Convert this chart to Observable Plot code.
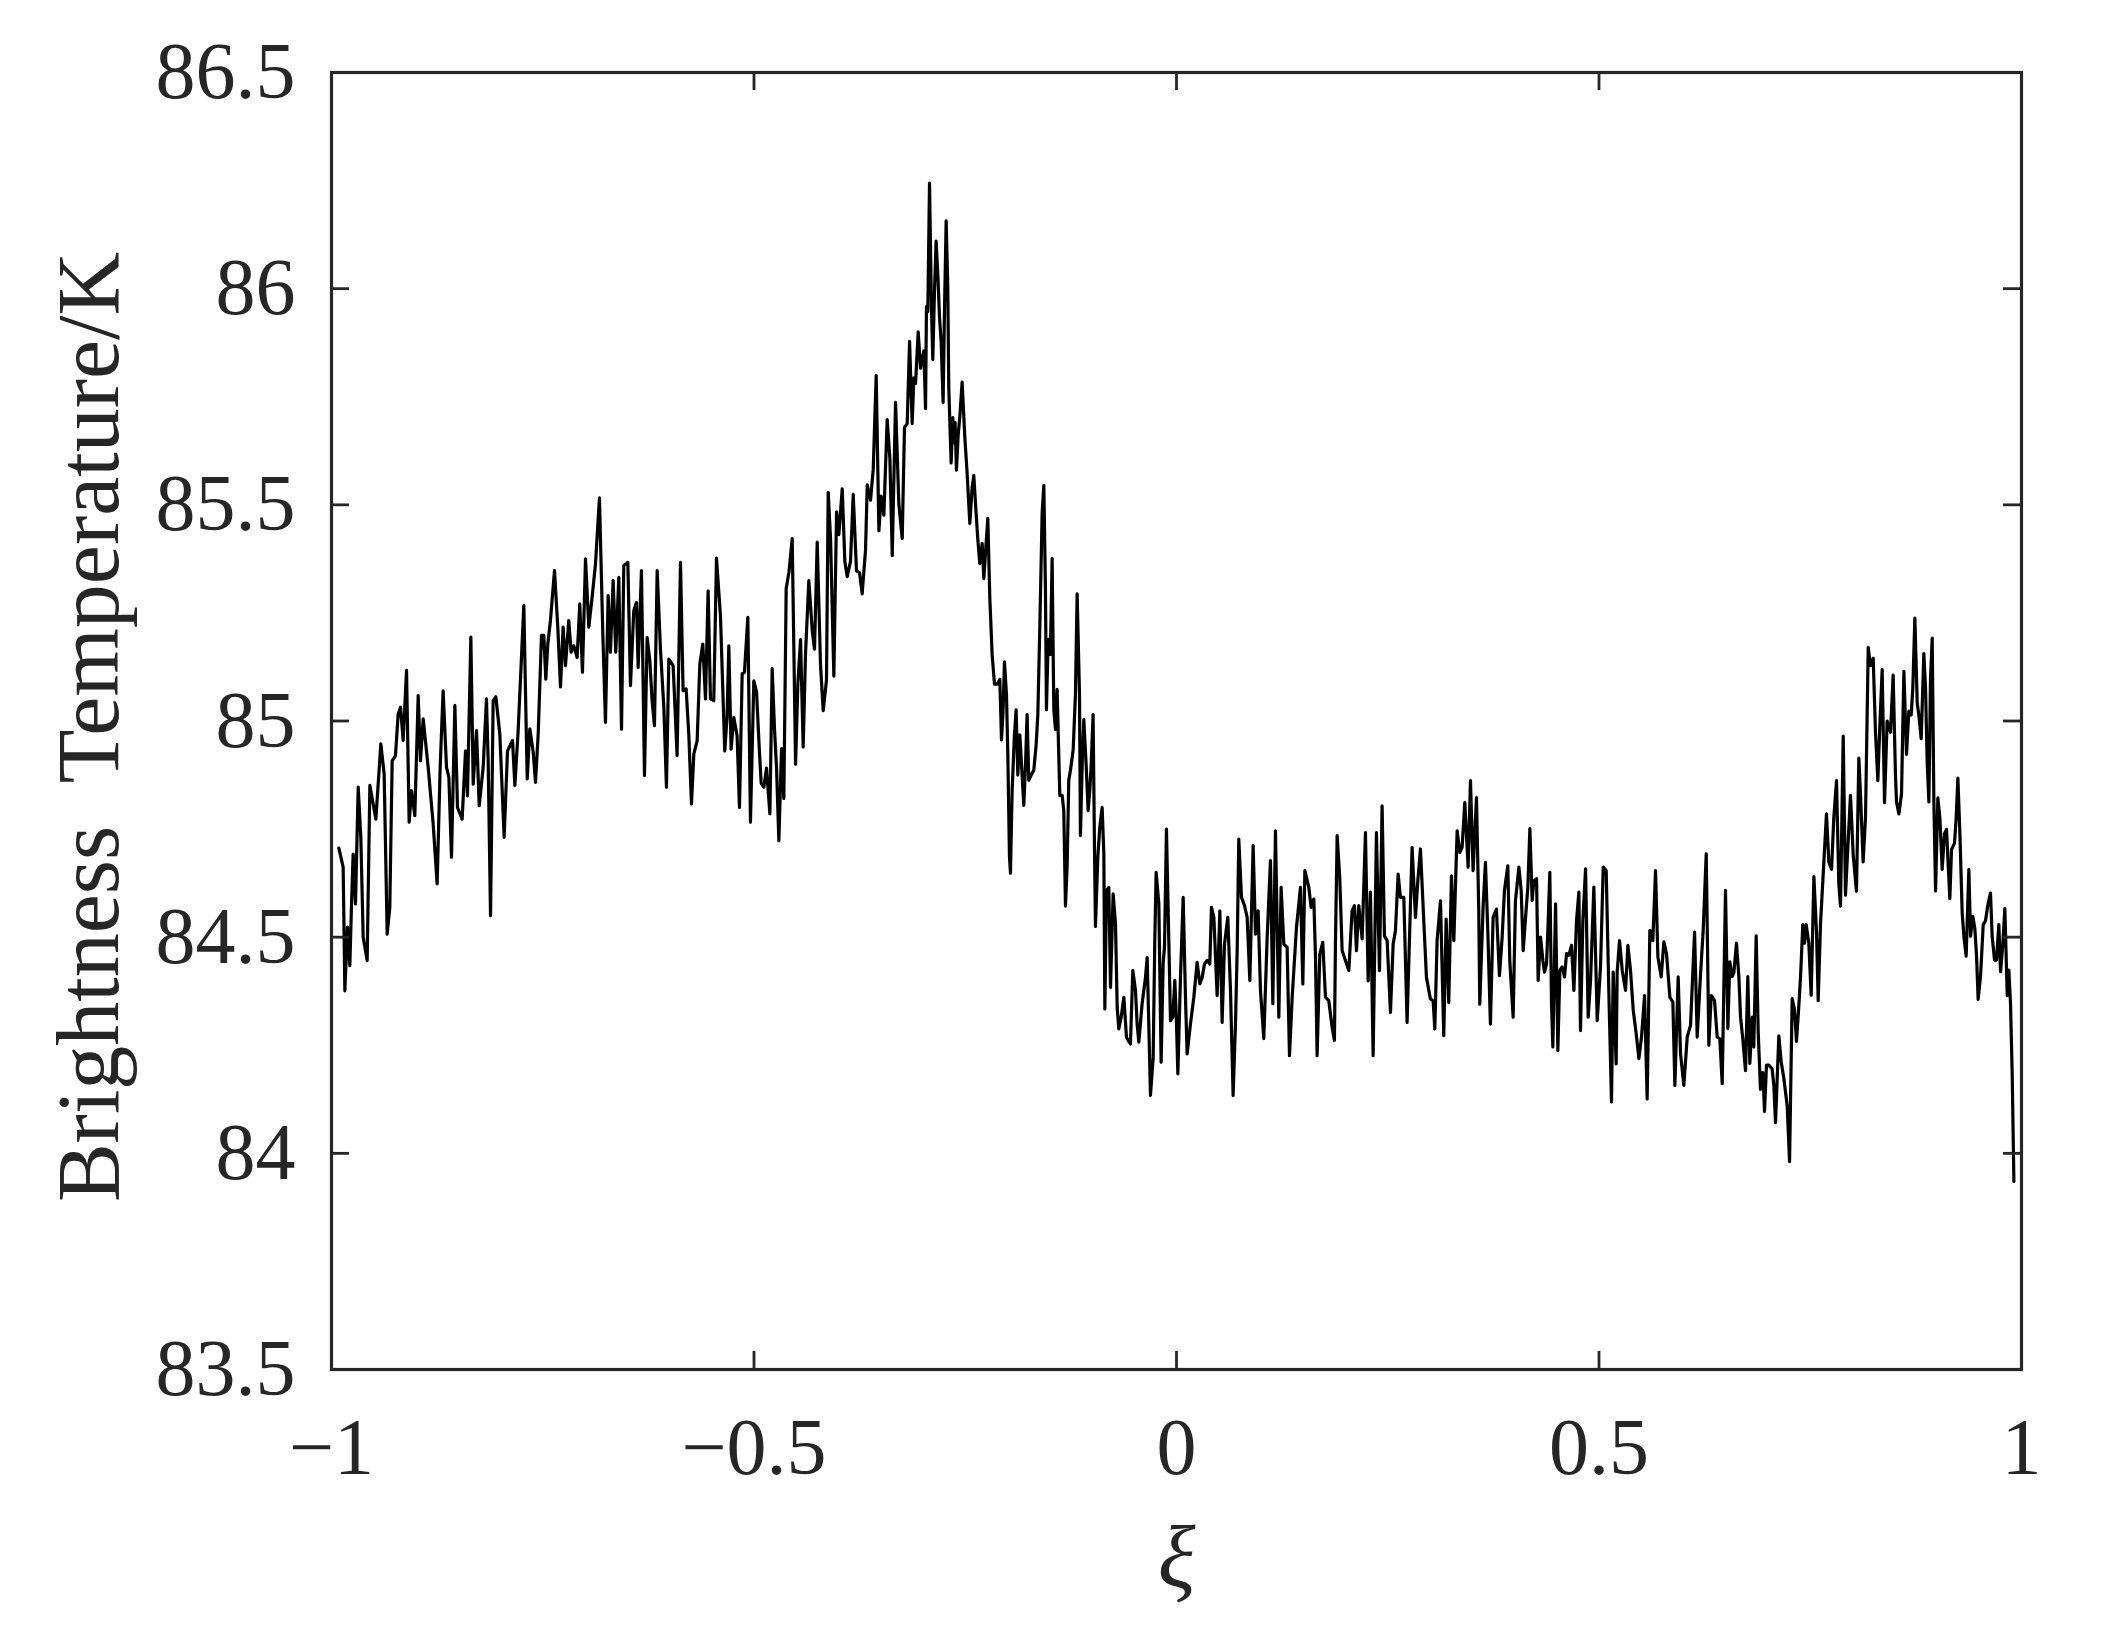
<!DOCTYPE html>
<html>
<head>
<meta charset="utf-8">
<script src="https://cdn.jsdelivr.net/npm/d3@7"></script>
<script src="https://cdn.jsdelivr.net/npm/@observablehq/plot@0.6"></script>
<style>
  html, body { margin: 0; padding: 0; background: #ffffff; }
  svg text { white-space: pre; }
</style>
</head>
<body>
<div id="chart"></div>
<script>
// ---- Data ----
const xi = [
  // segment 1
  -0.9913,-0.9862,-0.9842,-0.9811,-0.9783,-0.9763,-0.9744,-0.9716,-0.9684,-0.9653,
  -0.9625,-0.9578,-0.9546,-0.9507,-0.9475,-0.9416,-0.9377,-0.9341,-0.9310,-0.9282,
  -0.9243,-0.9211,-0.9183,-0.9152,-0.9112,-0.9081,-0.9053,-0.9014,-0.8974,-0.8947,
  -0.8915,-0.8856,-0.8797,-0.8750,-0.8714,-0.8679,-0.8639,-0.8611,-0.8580,-0.8540,
  -0.8509,-0.8454,-0.8414,-0.8391,-0.8351,-0.8323,-0.8284,-0.8252,-0.8205,-0.8166,
  -0.8146,-0.8118,-0.8087,-0.8055,-0.8008,-0.7957,-0.7917,-0.7858,-0.7830,-0.7791,
  -0.7724,-0.7684,-0.7653,-0.7613,-0.7586,-0.7554,-0.7515,-0.7487,-0.7464,
  // segment 2
  -0.7440,-0.7409,-0.7361,-0.7322,-0.7290,-0.7259,-0.7231,-0.7192,-0.7164,-0.7133,
  -0.7093,-0.7062,-0.7030,-0.6994,-0.6955,-0.6916,-0.6876,-0.6829,-0.6789,-0.6758,
  -0.6726,-0.6699,-0.6667,-0.6636,-0.6600,-0.6568,-0.6541,-0.6493,-0.6462,-0.6423,
  -0.6391,-0.6371,-0.6332,-0.6296,-0.6265,-0.6233,-0.6206,-0.6178,-0.6146,-0.6107,
  -0.6067,-0.6036,-0.6008,-0.5957,-0.5910,-0.5870,-0.5839,-0.5803,-0.5772,-0.5740,
  -0.5712,-0.5673,-0.5641,-0.5606,-0.5574,-0.5543,-0.5515,-0.5476,-0.5444,-0.5397,
  -0.5346,-0.5318,-0.5298,-0.5271,-0.5239,-0.5200,-0.5172,-0.5140,-0.5113,-0.5073,
  -0.5042,-0.5002,
  // segment 3
  -0.4970,-0.4942,-0.4915,-0.4883,-0.4852,-0.4812,-0.4785,-0.4757,-0.4733,-0.4706,
  -0.4674,-0.4647,-0.4619,-0.4587,-0.4548,-0.4508,-0.4481,-0.4449,-0.4418,-0.4390,
  -0.4351,-0.4311,-0.4284,-0.4252,-0.4213,-0.4181,-0.4142,-0.4122,-0.4094,-0.4055,
  -0.4023,-0.3996,-0.3956,-0.3925,-0.3897,-0.3858,-0.3826,-0.3787,-0.3751,-0.3720,
  -0.3680,-0.3660,-0.3621,-0.3589,-0.3554,-0.3522,-0.3495,-0.3463,-0.3424,-0.3392,
  -0.3364,-0.3325,-0.3286,-0.3246,-0.3219,-0.3187,-0.3159,-0.3128,-0.3108,-0.3088,
  -0.3057,-0.3029,-0.2990,-0.2970,
  // segment 4
  -0.2959,-0.2943,-0.2923,-0.2900,-0.2884,-0.2864,-0.2845,-0.2821,-0.2805,-0.2785,
  -0.2762,-0.2746,-0.2726,-0.2707,-0.2695,-0.2667,-0.2647,-0.2636,-0.2620,-0.2604,
  -0.2584,-0.2565,-0.2537,-0.2505,-0.2478,-0.2446,-0.2419,-0.2399,-0.2379,-0.2352,
  -0.2328,-0.2300,-0.2280,-0.2261,-0.2233,-0.2209,-0.2182,-0.2154,-0.2123,-0.2091,
  -0.2071,-0.2052,-0.2036,-0.2012,-0.1996,-0.1977,-0.1965,-0.1945,-0.1918,-0.1898,
  -0.1878,-0.1854,-0.1827,-0.1807,-0.1787,-0.1768,-0.1748,-0.1720,-0.1689,-0.1661,
  -0.1641,-0.1618,-0.1590,-0.1570,-0.1551,-0.1539,-0.1519,-0.1492,-0.1472,-0.1452,
  -0.1432,-0.1413,-0.1381,-0.1353,-0.1334,-0.1314,-0.1294,-0.1275,-0.1255,-0.1223,
  -0.1196,-0.1176,-0.1148,-0.1137,-0.1113,-0.1097,-0.1069,-0.1046,-0.1026,-0.1010,
  -0.0987,-0.0971,-0.0959,
  // segment 5
  -0.0931,-0.0908,-0.0880,-0.0860,-0.0848,-0.0829,-0.0801,-0.0781,-0.0762,-0.0750,
  -0.0722,-0.0702,-0.0683,-0.0655,-0.0623,-0.0592,-0.0545,-0.0517,-0.0485,-0.0466,
  -0.0446,-0.0407,-0.0367,-0.0347,-0.0328,-0.0308,-0.0276,-0.0257,-0.0241,-0.0209,
  -0.0182,-0.0158,-0.0142,-0.0119,-0.0091,-0.0071,-0.0044,-0.0020,0.0000,0.0016,
  0.0047,0.0079,0.0106,0.0126,0.0165,0.0205,0.0244,0.0276,0.0304,0.0331,
  0.0363,0.0394,0.0414,0.0442,0.0481,0.0513,0.0540,0.0568,0.0607,0.0639,
  0.0670,0.0698,0.0718,0.0737,0.0769,0.0805,0.0836,0.0868,0.0907,0.0935,
  0.0966,0.0994,0.1033,0.1073,0.1112,0.1140,0.1171,0.1211,0.1238,0.1270,
  0.1309,0.1337,0.1369,0.1420,0.1467,0.1495,0.1519,
  // segment 6
  0.1566,0.1593,0.1625,0.1645,0.1664,0.1696,0.1731,0.1763,0.1802,0.1842,
  0.1869,0.1881,0.1901,0.1932,0.1960,0.1999,0.2039,0.2078,0.2106,0.2130,
  0.2157,0.2197,0.2236,0.2268,0.2295,0.2327,0.2366,0.2402,0.2433,0.2461,
  0.2493,0.2532,0.2564,0.2591,0.2623,0.2650,0.2690,0.2729,0.2761,0.2788,
  0.2828,0.2856,0.2887,0.2919,0.2958,0.3005,0.3037,0.3057,0.3084,0.3124,
  0.3163,0.3191,0.3222,0.3254,0.3282,0.3321,0.3353,0.3380,0.3412,0.3451,
  0.3479,0.3510,0.3550,0.3577,0.3589,0.3629,0.3656,0.3684,0.3715,0.3747,
  0.3786,0.3822,0.3854,0.3881,0.3921,0.3944,0.3984,0.4011,
  // segment 7
  0.4052,0.4079,0.4103,0.4131,0.4158,0.4182,0.4209,0.4229,0.4261,0.4280,
  0.4308,0.4336,0.4355,0.4379,0.4395,0.4418,0.4438,0.4454,0.4486,0.4513,
  0.4537,0.4564,0.4592,0.4616,0.4643,0.4675,0.4703,0.4734,0.4762,0.4781,
  0.4809,0.4841,0.4872,0.4900,0.4939,0.4979,0.5018,0.5050,0.5085,0.5117,
  0.5148,0.5168,0.5203,0.5215,0.5243,0.5275,0.5314,0.5342,0.5373,0.5405,
  0.5440,0.5472,0.5503,0.5539,0.5570,0.5602,0.5637,0.5669,0.5697,0.5736,
  0.5768,0.5799,0.5839,0.5874,0.5898,0.5937,0.5965,0.6004,0.6044,0.6083,
  0.6131,0.6162,0.6202,0.6233,0.6269,0.6300,0.6328,0.6367,0.6399,0.6430,
  0.6458,0.6497,
  // segment 8
  0.6525,0.6548,0.6576,0.6596,0.6627,0.6655,0.6675,0.6702,0.6734,0.6761,
  0.6785,0.6813,0.6832,0.6860,0.6884,0.6911,0.6939,0.6959,0.6982,0.7010,
  0.7049,0.7069,0.7089,0.7128,0.7156,0.7187,0.7227,0.7255,0.7286,0.7314,
  0.7337,0.7365,0.7385,0.7412,0.7432,0.7452,0.7483,0.7511,0.7543,0.7574,
  0.7594,0.7621,0.7661,0.7692,0.7720,0.7752,0.7779,0.7811,0.7838,0.7858,
  0.7890,0.7917,0.7945,0.7976,0.8008,0.8047,0.8075,0.8095,0.8126,0.8154,
  0.8186,0.8213,0.8245,0.8272,0.8300,0.8324,0.8351,0.8379,0.8410,0.8450,
  0.8481,0.8509,
  // segment 9
  0.8521,0.8549,0.8580,0.8608,0.8639,0.8667,0.8695,0.8714,0.8738,0.8766,
  0.8785,0.8813,0.8844,0.8864,0.8884,0.8904,0.8923,0.8943,0.8963,0.8983,
  0.9010,0.9034,0.9061,0.9089,0.9113,0.9128,0.9152,0.9172,0.9207,0.9227,
  0.9247,0.9271,0.9298,0.9318,0.9345,0.9377,0.9397,0.9424,0.9448,0.9468,
  0.9487,0.9515,0.9547,0.9574,0.9602,0.9633,0.9653,0.9681,0.9704,0.9732,
  0.9752,0.9779,0.9803,0.9831,0.9850,0.9870,0.9890,0.9910
];

const tb = [
  // segment 1
  84.706,84.662,84.376,84.523,84.434,84.577,84.692,84.577,84.847,84.731,
  84.500,84.446,84.851,84.808,84.773,84.947,84.878,84.507,84.569,84.908,
  84.920,85.016,85.032,84.955,85.117,84.766,84.839,84.781,85.059,84.908,
  85.005,84.893,84.762,84.623,84.893,85.070,84.893,84.870,84.685,85.036,
  84.800,84.773,84.931,84.827,85.194,84.854,84.978,84.804,84.893,85.051,
  84.908,84.550,85.047,85.056,84.970,84.731,84.931,84.955,84.851,84.978,
  85.267,84.866,84.982,84.928,84.858,84.970,85.198,85.198,85.097,
  // segment 2
  85.178,85.232,85.348,85.217,85.079,85.217,85.128,85.232,85.159,85.174,
  85.147,85.271,85.113,85.375,85.217,85.286,85.363,85.516,85.201,84.997,
  85.290,85.159,85.325,85.159,85.332,84.981,85.359,85.367,85.082,85.255,
  85.274,85.124,85.348,84.874,85.193,85.140,85.047,84.989,85.348,85.166,
  85.032,84.847,85.143,85.128,84.920,85.367,85.070,85.074,84.970,84.808,
  84.924,84.954,85.132,85.178,85.051,85.301,85.051,85.047,85.377,85.244,
  84.931,85.012,85.174,84.935,85.008,84.966,84.800,85.109,85.113,85.240,
  84.766,85.093,
  // segment 3
  85.068,84.953,84.856,84.847,84.891,84.785,85.121,84.980,84.891,84.723,
  84.936,84.821,85.307,85.343,85.422,84.900,85.086,85.188,84.940,85.157,
  85.325,85.210,85.166,85.414,85.130,85.024,85.095,85.529,85.422,85.104,
  85.484,85.431,85.537,85.369,85.334,85.369,85.524,85.347,85.343,85.294,
  85.396,85.546,85.511,85.582,85.799,85.440,85.520,85.476,85.697,85.608,
  85.383,85.737,85.502,85.422,85.679,85.688,85.878,85.688,85.794,85.781,
  85.900,85.816,85.856,85.723,
  // segment 4
  85.959,85.947,86.244,85.959,85.836,85.993,86.110,86.017,85.935,85.877,
  85.737,85.947,86.157,86.005,85.772,85.597,85.702,85.644,85.690,85.580,
  85.661,85.702,85.784,85.656,85.574,85.457,85.539,85.568,85.504,85.422,
  85.364,85.411,85.329,85.387,85.469,85.283,85.154,85.085,85.085,85.096,
  84.956,85.026,85.137,85.061,84.921,84.688,84.648,84.840,84.968,85.026,
  84.875,84.968,84.875,84.805,84.898,85.015,84.863,84.875,84.886,84.945,
  85.015,85.213,85.481,85.545,85.306,85.026,85.189,85.154,85.376,85.026,
  84.980,85.073,84.828,84.828,84.793,84.572,84.665,84.863,84.886,84.933,
  85.061,85.294,85.061,84.735,84.921,85.003,84.898,84.793,84.840,84.898,
  85.015,84.712,84.525,
  // segment 5
  84.685,84.754,84.800,84.693,84.334,84.608,84.615,84.384,84.515,84.600,
  84.531,84.338,84.288,84.315,84.361,84.268,84.253,84.423,84.376,84.299,
  84.257,84.346,84.407,84.453,84.299,84.134,84.222,84.492,84.650,84.577,
  84.211,84.438,84.477,84.750,84.492,84.307,84.315,84.400,84.299,84.184,
  84.407,84.592,84.361,84.230,84.299,84.361,84.442,84.392,84.407,84.438,
  84.446,84.438,84.569,84.546,84.365,84.561,84.303,84.484,84.546,84.376,
  84.134,84.299,84.469,84.727,84.592,84.573,84.546,84.400,84.712,84.507,
  84.561,84.376,84.265,84.500,84.677,84.346,84.746,84.315,84.615,84.484,
  84.477,84.226,84.361,84.523,84.615,84.392,84.654,
  // segment 6
  84.615,84.569,84.588,84.453,84.226,84.461,84.488,84.361,84.353,84.291,
  84.261,84.484,84.735,84.638,84.469,84.446,84.423,84.561,84.573,84.469,
  84.573,84.496,84.742,84.399,84.604,84.226,84.742,84.423,84.804,84.503,
  84.492,84.326,84.484,84.515,84.646,84.592,84.592,84.303,84.523,84.708,
  84.546,84.631,84.704,84.569,84.407,84.357,84.353,84.288,84.492,84.584,
  84.272,84.542,84.349,84.642,84.492,84.746,84.696,84.708,84.812,84.662,
  84.862,84.654,84.823,84.561,84.345,84.573,84.673,84.515,84.299,84.546,
  84.565,84.411,84.500,84.608,84.665,84.446,84.315,84.584,
  // segment 7
  84.662,84.608,84.469,84.546,84.616,84.751,84.585,84.631,84.635,84.400,
  84.500,84.446,84.419,84.438,84.516,84.650,84.346,84.246,84.577,84.238,
  84.423,84.431,84.408,84.462,84.458,84.481,84.377,84.539,84.604,84.284,
  84.539,84.658,84.315,84.400,84.616,84.307,84.431,84.662,84.654,84.369,
  84.119,84.419,84.207,84.419,84.492,84.423,84.377,84.481,84.423,84.331,
  84.277,84.219,84.269,84.365,84.126,84.516,84.492,84.654,84.454,84.408,
  84.489,84.462,84.361,84.350,84.157,84.408,84.230,84.157,84.269,84.296,
  84.512,84.269,84.415,84.516,84.693,84.250,84.365,84.354,84.269,84.265,
  84.161,84.608,
  // segment 8
  84.289,84.443,84.409,84.418,84.486,84.409,84.315,84.264,84.191,84.409,
  84.208,84.315,84.246,84.503,84.281,84.148,84.187,84.097,84.204,84.204,
  84.195,84.157,84.071,84.272,84.212,84.174,84.110,83.981,84.358,84.332,
  84.259,84.341,84.409,84.529,84.486,84.529,84.486,84.366,84.640,84.512,
  84.353,84.529,84.674,84.785,84.674,84.657,84.777,84.862,84.623,84.572,
  84.965,84.597,84.708,84.828,84.691,84.606,84.914,84.828,84.674,84.777,
  85.170,85.128,85.145,84.974,84.862,84.991,85.119,84.811,85.000,84.974,
  85.106,84.871,
  // segment 9
  84.813,84.785,84.831,85.115,84.923,85.023,85.014,85.078,85.238,85.041,
  85.014,84.959,85.156,85.078,84.904,84.813,85.096,85.192,84.813,84.607,
  84.822,84.776,84.657,84.740,84.749,84.685,84.589,84.703,84.717,84.776,
  84.868,84.740,84.557,84.502,84.456,84.657,84.502,84.548,84.520,84.456,
  84.356,84.410,84.529,84.538,84.575,84.602,84.502,84.447,84.447,84.529,
  84.420,84.484,84.566,84.365,84.424,84.346,84.182,83.935
];

const xTicks = [-1, -0.5, 0, 0.5, 1];
const xTickLabels = ["\u22121", "\u22120.5", "0", "0.5", "1"];
const yTicks = [83.5, 84, 84.5, 85, 85.5, 86, 86.5];
const yTickLabels = ["83.5", "84", "84.5", "85", "85.5", "86", "86.5"];
const xLabel = "\u03BE";
const yLabel = "Brightness  Temperature/K";

// ---- Build the chart ----
const series = xi.map((x, i) => ({xi: x, tb: tb[i]}));
const xFmt = new Map(xTicks.map((t, i) => [t, xTickLabels[i]]));
const yFmt = new Map(yTicks.map((t, i) => [t, yTickLabels[i]]));

const W = 2103, H = 1649;
const mL = 331, mR = 82, mT = 72, mB = 280;
const plotW = W - mL - mR, plotH = H - mT - mB;
const tickLen = 18;
const axisColor = "#262626";
const tickFont = 80, labelFont = 88;

const chart = Plot.plot({
  width: W,
  height: H,
  marginLeft: mL,
  marginRight: mR,
  marginTop: mT,
  marginBottom: mB,
  x: {domain: [-1, 1]},
  y: {domain: [83.5, 86.5]},
  style: {
    fontFamily: "'Liberation Serif', 'Times New Roman', serif",
    color: axisColor,
    background: "#ffffff",
    overflow: "visible"
  },
  marks: [
    Plot.line(series, {x: "xi", y: "tb", stroke: "#000000", strokeWidth: 3.2}),
    // inward ticks on all four sides
    Plot.ruleX(xTicks, {x: d => d, insetTop: plotH - tickLen, stroke: axisColor, strokeWidth: 2.8}),
    Plot.ruleX(xTicks, {x: d => d, insetBottom: plotH - tickLen, stroke: axisColor, strokeWidth: 2.8}),
    Plot.ruleY(yTicks, {y: d => d, insetRight: plotW - tickLen, stroke: axisColor, strokeWidth: 2.8}),
    Plot.ruleY(yTicks, {y: d => d, insetLeft: plotW - tickLen, stroke: axisColor, strokeWidth: 2.8}),
    Plot.axisX(xTicks, {anchor: "bottom", tickSize: 0, tickPadding: 48, tickFormat: d => xFmt.get(d), fontSize: tickFont, label: null, fill: axisColor}),
    Plot.axisY(yTicks, {anchor: "left", tickSize: 0, tickPadding: 36, tickFormat: d => yFmt.get(d), fontSize: tickFont, label: null, fill: axisColor}),
    Plot.text([xLabel], {text: d => d, frameAnchor: "bottom", textAnchor: "middle", lineAnchor: "bottom", dy: 217, fontSize: labelFont, fontStyle: "italic", fill: axisColor}),
    Plot.text([yLabel], {text: d => d, frameAnchor: "left", textAnchor: "middle", lineAnchor: "bottom", rotate: -90, dx: -214, dy: 6, fontSize: labelFont, fill: axisColor}),
    Plot.frame({stroke: axisColor, strokeWidth: 3.2})
  ]
});

document.getElementById("chart").appendChild(chart);
</script>
</body>
</html>
